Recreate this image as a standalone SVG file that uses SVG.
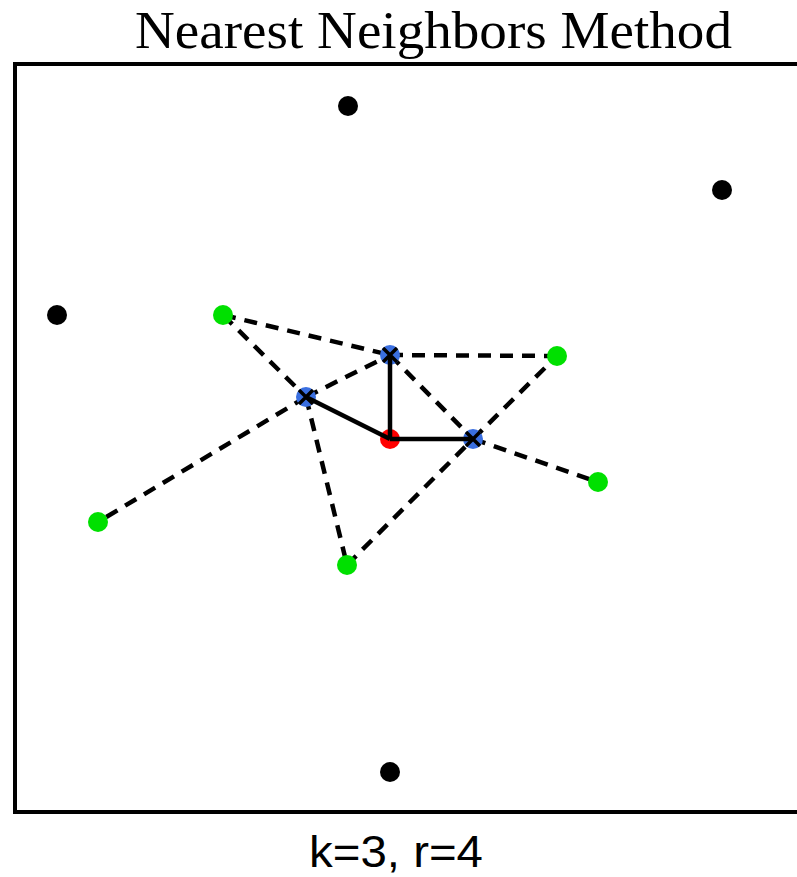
<svg xmlns="http://www.w3.org/2000/svg" width="797" height="877" viewBox="0 0 797 877">
<style>
.dash{stroke:#000;stroke-width:4.5;stroke-dasharray:13 9;fill:none}
.solid{stroke:#000;stroke-width:4.5;fill:none}
.k{fill:#000}.g{fill:#00e000}.b{fill:#3a6fe0}.r{fill:#ff0000}
.x{stroke:#000;stroke-width:3.5}
</style>
<rect width="797" height="877" fill="#fff"/>
<text x="135" y="48" font-family="Liberation Serif, serif" font-size="52" textLength="597" lengthAdjust="spacingAndGlyphs">Nearest Neighbors Method</text>
<path d="M800 64 H15 V812 H800" fill="none" stroke="#000" stroke-width="4"/>
<g id="connectors">
<line class="dash" x1="223" y1="315" x2="390" y2="355"/>
<line class="dash" x1="223" y1="315" x2="306" y2="397"/>
<line class="dash" x1="390" y1="355" x2="557" y2="356"/>
<line class="dash" x1="306" y1="397" x2="390" y2="355"/>
<line class="dash" x1="390" y1="355" x2="473" y2="439"/>
<line class="dash" x1="473" y1="439" x2="557" y2="356"/>
<line class="dash" x1="473" y1="439" x2="598" y2="482"/>
<line class="dash" x1="306" y1="397" x2="98" y2="522"/>
<line class="dash" x1="306" y1="397" x2="347" y2="565"/>
<line class="dash" x1="347" y1="565" x2="473" y2="439"/>
</g>
<g id="black1"><circle class="k" cx="348" cy="106" r="10"/></g>
<g id="black2"><circle class="k" cx="722" cy="190" r="10"/></g>
<g id="black3"><circle class="k" cx="57" cy="315" r="10"/></g>
<g id="black4"><circle class="k" cx="390" cy="772" r="10"/></g>
<g id="green1"><circle class="g" cx="223" cy="315" r="10"/></g>
<g id="green2"><circle class="g" cx="557" cy="356" r="10"/></g>
<g id="green3"><circle class="g" cx="98" cy="522" r="10"/></g>
<g id="green4"><circle class="g" cx="347" cy="565" r="10"/></g>
<g id="green5"><circle class="g" cx="598" cy="482" r="10"/></g>
<g id="blue1"><circle class="b" cx="390" cy="355" r="10"/><path class="x" d="M383 348 L397 362 M397 348 L383 362"/></g>
<g id="blue2"><circle class="b" cx="306" cy="397" r="10"/><path class="x" d="M299 390 L313 404 M313 390 L299 404"/></g>
<g id="blue3"><circle class="b" cx="473" cy="439" r="10"/><path class="x" d="M466 432 L480 446 M480 432 L466 446"/></g>
<g id="red"><circle class="r" cx="390" cy="439" r="10"/></g>
<g id="solid-connectors">
<line class="solid" x1="390" y1="439" x2="390" y2="355"/>
<line class="solid" x1="390" y1="439" x2="306" y2="397"/>
<line class="solid" x1="390" y1="439" x2="473" y2="439"/>
</g>
<text x="309" y="867" font-family="Liberation Sans, Arial, sans-serif" font-size="45" textLength="174" lengthAdjust="spacingAndGlyphs">k=3, r=4</text>
</svg>
